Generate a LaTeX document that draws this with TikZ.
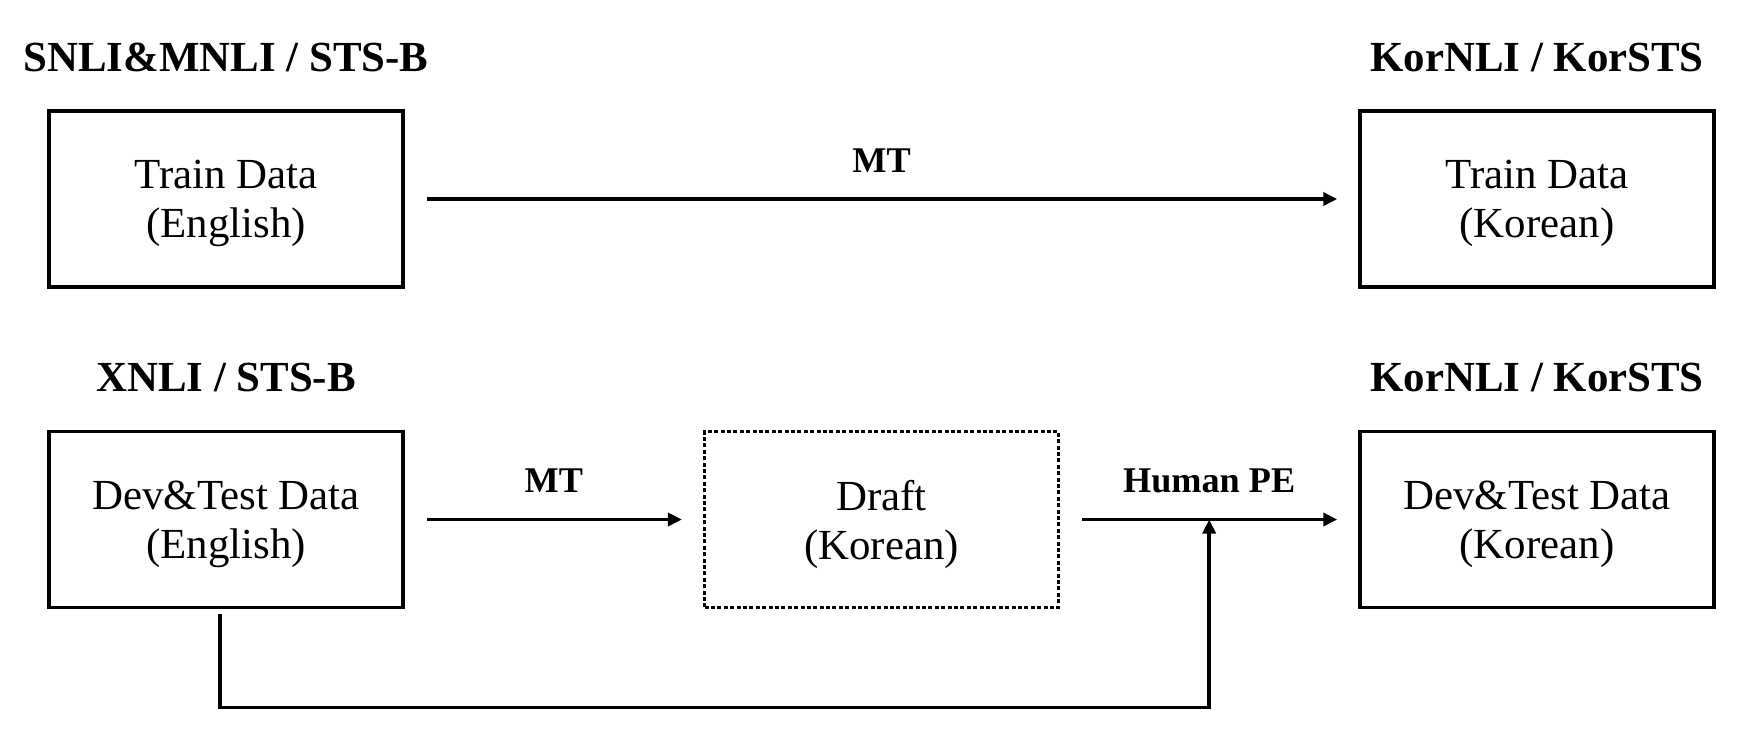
\documentclass[tikz,border=0pt]{standalone}
\usepackage{fontspec}
\setmainfont{Liberation Serif}
\usetikzlibrary{arrows.meta}

\begin{document}
\begin{tikzpicture}[
    datanode/.style={draw, line width=1pt, minimum width=3.54cm, minimum height=1.76cm, align=center, inner sep=0pt, text depth=0pt, font=\fontsize{12.2}{14}\selectfont},
    draftnode/.style={datanode, line width=0.9pt, dash pattern=on 0.04cm off 0.024cm},
    setnode/.style={font=\fontsize{12.2}{14}\selectfont\bfseries, inner sep=0pt, anchor=base},
    stepnode/.style={font=\fontsize{10.3}{12}\selectfont\bfseries, inner sep=0pt, above=0.25cm},
    flowline/.style={line width=1pt, -{Triangle[length=0.14cm, width=0.13cm]}},
    flow/.style={flowline, shorten <=0.22cm, shorten >=0.21cm}
]
\useasboundingbox (0,0) rectangle (17.52,-7.32);

% Top row: train data
\node[datanode] (trEn) at (2.26,-1.99) {Train Data\\(English)};
\node[datanode] (trKo) at (15.37,-1.99) {Train Data\\(Korean)};
\node[setnode] (trEnSet) at ([yshift=0.38cm]trEn.north) {SNLI\&MNLI / STS-B};
\node[setnode] (trKoSet) at ([yshift=0.38cm]trKo.north) {KorNLI / KorSTS};

\draw[flow] (trEn) -- node[stepnode] (trMT) {MT} (trKo);

% Bottom row: dev and test data
\node[datanode] (dvEn) at (2.26,-5.195) {Dev\&Test Data\\(English)};
\node[draftnode] (draft) at (8.815,-5.195) {Draft\\(Korean)};
\node[datanode] (dvKo) at (15.37,-5.195) {Dev\&Test Data\\(Korean)};
\node[setnode] (dvEnSet) at ([yshift=0.38cm]dvEn.north) {XNLI / STS-B};
\node[setnode] (dvKoSet) at ([yshift=0.38cm]dvKo.north) {KorNLI / KorSTS};

\draw[flow] (dvEn) -- node[stepnode] (dvMT) {MT} (draft);
\draw[flow] (draft) -- node[stepnode] (dvPE) {Human PE} coordinate (peMid) (dvKo);

% Source sentences go to post-editing too
\coordinate (fbTop) at ([xshift=-0.06cm, yshift=-0.05cm]dvEn.south);
\draw[flowline] (fbTop) -- ++(0,-0.93) -| (peMid);

\end{tikzpicture}
\end{document}
